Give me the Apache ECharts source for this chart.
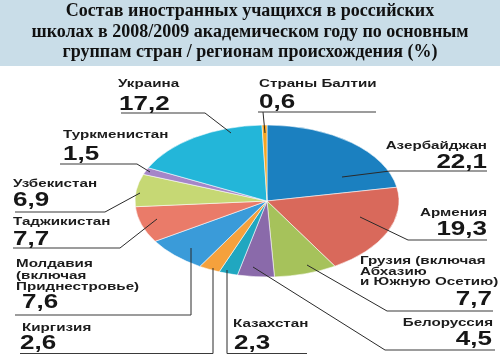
<!DOCTYPE html>
<html><head><meta charset="utf-8">
<script src="https://cdn.jsdelivr.net/npm/echarts@6/dist/echarts.min.js"></script>
<style>html,body{margin:0;padding:0;background:#fff}#c{width:500px;height:361px}</style>
</head><body><div id="c"></div>
<script>
// ---- data ----
const titleLines = [
  'Состав иностранных учащихся в российских',
  'школах в 2008/2009 академическом году по основным',
  'группам стран / регионам происхождения (%)'
];
const categories = [
  'Азербайджан',
  'Армения',
  'Грузия (включая\nАбхазию\nи Южную Осетию)',
  'Белоруссия',
  'Казахстан',
  'Киргизия',
  'Молдавия\n(включая\nПриднестровье)',
  'Таджикистан',
  'Узбекистан',
  'Туркменистан',
  'Украина',
  'Страны Балтии'
];
const shares = [22.1, 19.3, 7.7, 4.5, 2.3, 2.6, 7.6, 7.7, 6.9, 1.5, 17.2, 0.6];

// ---- styles / layout ----
const colors = ['#1b80c0', '#d9695b', '#a6c25b', '#8a6aaa', '#20a7c0', '#f5a13c',
                '#3a9bd9', '#ea7b69', '#c6d874', '#a586c8', '#23b6d9', '#f5a623'];
const PIE = {cx: 267, cy: 201, rx: 132, ry: 76};
// name: align, x, cap-centre y of first line, line height ; value: align, x, cap-centre y ; underline ; leader
const labelLayout = [
  {na:'right', nx:487, ny:146, lh:11, va:'right', vx:487, vy:162, ul:[390,487,171], ld:[[390,171],[342,177]]},
  {na:'right', nx:487, ny:212.5, lh:11, va:'right', vx:487, vy:229, ul:[408,487,240], ld:[[408,240],[360,217]]},
  {na:'left', nx:360, ny:261, lh:10.5, va:'right', vx:492, vy:299, ul:[387,493,311], ld:[[387,311],[307,265]]},
  {na:'right', nx:493, ny:322.5, lh:11, va:'right', vx:492, vy:339, ul:[385,495,350], ld:[[385,350],[253,267]]},
  {na:'left', nx:233, ny:324, lh:11, va:'left', vx:234, vy:343, ul:[227,307,353.5], ld:[[227,353.5],[227,270]]},
  {na:'left', nx:22, ny:327.5, lh:11, va:'left', vx:20, vy:343, ul:[20,213,353.5], ld:[[213,353.5],[213,268]]},
  {na:'left', nx:16, ny:264, lh:11.5, va:'left', vx:22, vy:302, ul:[15,191,315], ld:[[191,315],[191,248]]},
  {na:'left', nx:13, ny:222, lh:11, va:'left', vx:13, vy:239, ul:[13,120,248], ld:[[120,248],[157,219]]},
  {na:'left', nx:13, ny:184, lh:11, va:'left', vx:13, vy:200, ul:[15,105,212], ld:[[105,212],[140,193]]},
  {na:'left', nx:63, ny:135, lh:11, va:'left', vx:63, vy:154, ul:[60,137,164], ld:[[137,164],[150,172]]},
  {na:'left', nx:118, ny:84, lh:11, va:'left', vx:119, vy:104, ul:[121,205,113], ld:[[205,113],[231,133]]},
  {na:'left', nx:259, ny:84, lh:11, va:'left', vx:259, vy:102, ul:[258,376,112], ld:[[263,112],[265,133]]}
];
const NAME_FONT = 'bold 11px "Liberation Sans", Arial, sans-serif';
const VALUE_FONT = 'bold 20px "Liberation Sans", Arial, sans-serif';
const NAME_STRETCH = 1.38;
const VALUE_STRETCH = 1.3;

const total = shares.reduce((a, b) => a + b, 0);
const starts = [];
let acc = 0;
shares.forEach(v => { starts.push(acc); acc += v; });

function fmt(v) { return v.toFixed(1).replace('.', ','); }

function renderItem(params, api) {
  const i = params.dataIndex;
  const v = api.value(0);
  const a0 = -Math.PI / 2 + starts[i] / total * 2 * Math.PI;
  const a1 = a0 + v / total * 2 * Math.PI;
  const L = labelLayout[i];
  return {
    type: 'group',
    children: [
      {
        type: 'sector', z2: 0,
        shape: {cx: PIE.cx, cy: PIE.cy, r0: 0, r: PIE.rx, startAngle: a0, endAngle: a1, clockwise: true},
        originX: PIE.cx, originY: PIE.cy, scaleY: PIE.ry / PIE.rx,
        style: {fill: colors[i], stroke: '#ffffff', lineWidth: 0.7, strokeNoScale: true}
      },
      {
        type: 'polyline', z2: 20,
        shape: {points: L.ld},
        style: {stroke: '#2a2a2a', lineWidth: 1, fill: null}
      },
      {
        type: 'line', z2: 20,
        shape: {x1: L.ul[0], y1: L.ul[2], x2: L.ul[1], y2: L.ul[2]},
        style: {stroke: '#3a3a3a', lineWidth: 1.2}
      },
      {
        type: 'text', z2: 30,
        x: L.nx, y: L.ny - L.lh / 2, scaleX: NAME_STRETCH,
        style: {
          text: categories[i], x: 0, y: 0,
          font: NAME_FONT, fill: '#1c1c1c', lineHeight: L.lh,
          align: L.na, verticalAlign: 'top'
        }
      },
      {
        type: 'text', z2: 30,
        x: L.vx, y: L.vy, scaleX: VALUE_STRETCH,
        style: {
          text: fmt(v), x: 0, y: 0,
          font: VALUE_FONT, fill: '#161616',
          align: L.va, verticalAlign: 'middle'
        }
      }
    ]
  };
}

const chart = echarts.init(document.getElementById('c'), null, {renderer: 'canvas'});
chart.setOption({
  animation: false,
  backgroundColor: '#ffffff',
  title: {
    text: titleLines.join('\n'),
    left: 'center', top: 1, padding: 0,
    textStyle: {
      fontFamily: '"Liberation Serif", "Times New Roman", serif',
      fontWeight: 'bold', fontSize: 18, lineHeight: 20.7, color: '#111111',
      align: 'center'
    }
  },
  graphic: [{
    type: 'rect', left: 0, top: 0, z: -10,
    shape: {x: 0, y: 0, width: 500, height: 66},
    style: {fill: '#c9dde8'}
  }],
  series: [{
    type: 'custom',
    coordinateSystem: 'none',
    renderItem: renderItem,
    data: shares.map(v => [v])
  }]
});
</script>
</body></html>
